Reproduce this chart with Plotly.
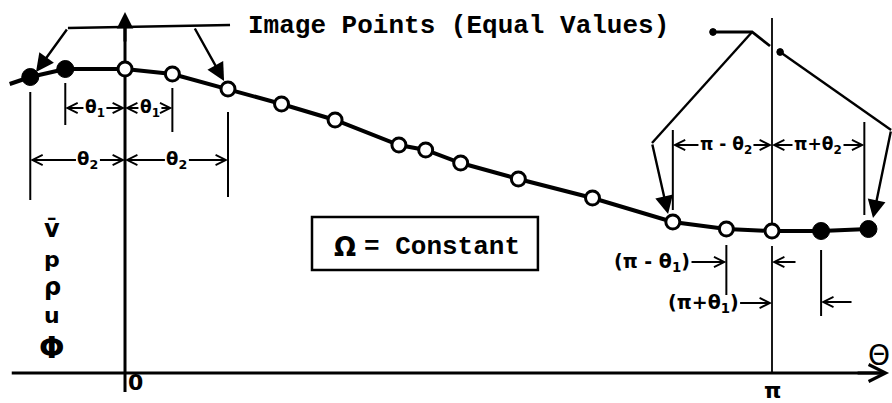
import math
import plotly.graph_objects as go

# Stations along the curve: angle (rad) and the flow property value there
THETA = [-0.46, -0.29, 0.00, 0.23, 0.50, 0.76, 1.02, 1.33, 1.46, 1.63,
         1.91, 2.27, 2.66, 2.92, math.pi, 3.38, 3.61]
VALUE = [2.96, 3.04, 3.04, 2.99, 2.84, 2.69, 2.53, 2.28, 2.23, 2.10,
         1.94, 1.75, 1.51, 1.44, 1.42, 1.42, 1.44]
# 1 = image point (filled), 0 = computed point (open)
IS_IMAGE = [1, 1, 0, 0, 0, 0, 0, 0, 0, 0, 0, 0, 0, 0, 0, 1, 1]
# short run-in of the curve ahead of the first station
LEAD_THETA = [-0.56]
LEAD_VALUE = [2.89]

Y_LABELS = ["v\u0304", "p", "\u03c1", "u", "\u03a6"]
X_TICKS = [0.0, math.pi]
X_TICK_TEXT = ["0", "\u03c0"]

TITLE = "Image Points (Equal Values)"
BOX_TEXT = "= Constant"

HAND = "DejaVu Sans"
TYPE = "Liberation Mono"

fig = go.Figure()

# curve
fig.add_trace(go.Scatter(
    x=LEAD_THETA + THETA, y=LEAD_VALUE + VALUE, mode="lines",
    line=dict(color="black", width=4), hoverinfo="skip"))

open_x = [t for t, f in zip(THETA, IS_IMAGE) if not f]
open_y = [v for v, f in zip(VALUE, IS_IMAGE) if not f]
img_x = [t for t, f in zip(THETA, IS_IMAGE) if f]
img_y = [v for v, f in zip(VALUE, IS_IMAGE) if f]

fig.add_trace(go.Scatter(
    x=open_x, y=open_y, mode="markers",
    marker=dict(symbol="circle", size=14, color="white",
                line=dict(color="black", width=3))))
fig.add_trace(go.Scatter(
    x=img_x, y=img_y, mode="markers",
    marker=dict(symbol="circle", size=17, color="black",
                line=dict(color="black", width=1))))


def seg(x0, y0, x1, y1, w=2.0):
    fig.add_shape(type="line", x0=x0, y0=y0, x1=x1, y1=y1, xref="x", yref="y",
                  line=dict(color="black", width=w), layer="below")


def arrow(xt, yt, xh, yh, head=2, size=1.0, w=2.2, text="", font=None):
    fig.add_annotation(x=xh, y=yh, ax=xt, ay=yt, xref="x", yref="y",
                       axref="x", ayref="y", text=text, showarrow=True,
                       arrowhead=head, arrowsize=size, arrowwidth=w,
                       arrowcolor="black", standoff=0, startstandoff=0,
                       font=font or dict(size=12, color="black"))


def dimension(x_left, x_right, y, label, x_label, size=17):
    for head, col in ((x_right, "black"), (x_left, "rgba(0,0,0,0)")):
        arrow(x_label, y, head, y, head=5, size=1.0, w=2, text=label,
              font=dict(family=HAND, size=size, color=col, weight="bold"))


# axes
seg(-0.55, 0.0, 3.69, 0.0, w=3)
seg(0.0, -0.19, 0.0, 3.50, w=3)
arrow(0.0, 3.30, 0.0, 3.61, head=2, size=1.1, w=3)
arrow(3.55, 0.0, 3.71, 0.0, head=5, size=1.1, w=3)

# line through theta = pi
seg(math.pi, 3.55, math.pi, 1.42, w=1.8)
seg(math.pi, 1.27, math.pi, 0.0, w=1.8)

# extension lines for the dimensions
seg(THETA[0], 2.81, THETA[0], 1.73)
seg(THETA[1], 2.90, THETA[1], 2.48)
seg(THETA[3], 2.85, THETA[3], 2.41)
seg(THETA[4], 2.61, THETA[4], 1.76)
seg(THETA[12], 2.43, THETA[12], 1.63)
seg(THETA[16] - 0.02, 2.51, THETA[16] - 0.02, 1.58)
seg(THETA[13], 1.28, THETA[13], 0.78)
seg(THETA[15], 1.23, THETA[15], 0.57)

# dimensions
dimension(THETA[1], 0.0, 2.65, "\u03b8<sub>1</sub>", -0.146)
dimension(0.0, THETA[3], 2.65, "\u03b8<sub>1</sub>", 0.121)
dimension(THETA[0], 0.0, 2.13, "\u03b8<sub>2</sub>", -0.18, size=18)
dimension(0.0, THETA[4], 2.13, "\u03b8<sub>2</sub>", 0.252, size=18)
dimension(THETA[12], math.pi, 2.28, "\u03c0 - \u03b8<sub>2</sub>", 2.918)
dimension(math.pi, THETA[16] - 0.02, 2.28, "\u03c0+\u03b8<sub>2</sub>", 3.365)

lbl = dict(family=HAND, size=19, color="black", weight="bold")
arrow(2.559, 1.11, THETA[13], 1.11, head=5, w=2, text="(\u03c0 - \u03b8<sub>1</sub>)", font=lbl)
arrow(3.263, 1.11, math.pi, 1.11, head=5, w=2)
arrow(2.807, 0.70, math.pi, 0.70, head=5, w=2, text="(\u03c0+\u03b8<sub>1</sub>)", font=lbl)
arrow(3.535, 0.71, THETA[15], 0.71, head=5, w=2)

# leaders from the caption to the image points
fig.add_shape(type="path", path="M 0.51,3.48 L -0.277,3.45", xref="x", yref="y",
              line=dict(color="black", width=2.4), layer="below")
arrow(-0.277, 3.45, -0.432, 3.01, head=2, size=1.5, w=2.4)
arrow(0.335, 3.46, 0.481, 2.92, head=2, size=1.5, w=2.4)
fig.add_shape(type="path", path="M 2.855,3.41 L 3.045,3.41 L 3.132,3.27",
              xref="x", yref="y", line=dict(color="black", width=2.8), layer="below")
fig.add_shape(type="path", path="M 3.045,3.41 L 2.559,2.30", xref="x", yref="y",
              line=dict(color="black", width=2.4), layer="below")
arrow(2.559, 2.30, 2.637, 1.59, head=2, size=1.5, w=2.4)
fig.add_shape(type="path", path="M 3.181,3.21 L 3.720,2.43", xref="x", yref="y",
              line=dict(color="black", width=2.4), layer="below")
arrow(3.720, 2.43, 3.632, 1.55, head=2, size=1.5, w=2.4)
for cx, cy in ((2.855, 3.41), (3.181, 3.21)):
    fig.add_shape(type="circle", x0=cx - 0.016, x1=cx + 0.016, y0=cy - 0.034, y1=cy + 0.034,
                  xref="x", yref="y", fillcolor="black", line=dict(color="black", width=1))

# caption
fig.add_annotation(x=0.588, y=3.47, xref="x", yref="y", xanchor="left", yanchor="middle",
                   text=TITLE, showarrow=False,
                   font=dict(family=TYPE, size=26, color="black", weight="bold"))

# boxed note
fig.add_shape(type="rect", x0=0.908, x1=2.005, y0=1.03, y1=1.56, xref="x", yref="y",
              line=dict(color="black", width=2.5))
fig.add_annotation(x=1.068, y=1.26, xref="x", yref="y", text="\u03a9", showarrow=False,
                   font=dict(family=HAND, size=26, color="black", weight="bold"))
fig.add_annotation(x=1.151, y=1.26, xref="x", yref="y", xanchor="left", text=BOX_TEXT,
                   showarrow=False,
                   font=dict(family=TYPE, size=26, color="black", weight="bold"))

# stacked ordinate labels
for txt, yv, sz in zip(Y_LABELS, [1.44, 1.14, 0.86, 0.58, 0.26], [24, 22, 24, 22, 30]):
    fig.add_annotation(x=-0.354, y=yv, xref="x", yref="y", text=txt, showarrow=False,
                       font=dict(family=HAND, size=sz, color="black", weight="bold"))

# abscissa labels
for xv, txt, dx, yv in zip(X_TICKS, X_TICK_TEXT, [0.049, 0.0], [-0.09, -0.17]):
    fig.add_annotation(x=xv + dx, y=yv, xref="x", yref="y", text=txt, showarrow=False,
                       font=dict(family=HAND, size=22, color="black", weight="bold"))
fig.add_annotation(x=3.7243, y=0.18, xref="x", yref="y", xanchor="right", text="\u0398",
                   showarrow=False, font=dict(family=HAND, size=28, color="black"))

fig.update_layout(
    width=892, height=403, margin=dict(l=0, r=0, t=0, b=0),
    paper_bgcolor="white", plot_bgcolor="white", showlegend=False,
    xaxis=dict(range=[-0.607, 3.7243], visible=False, fixedrange=True),
    yaxis=dict(range=[-0.30, 3.73], visible=False, fixedrange=True),
)

fig.write_html("out.html")
